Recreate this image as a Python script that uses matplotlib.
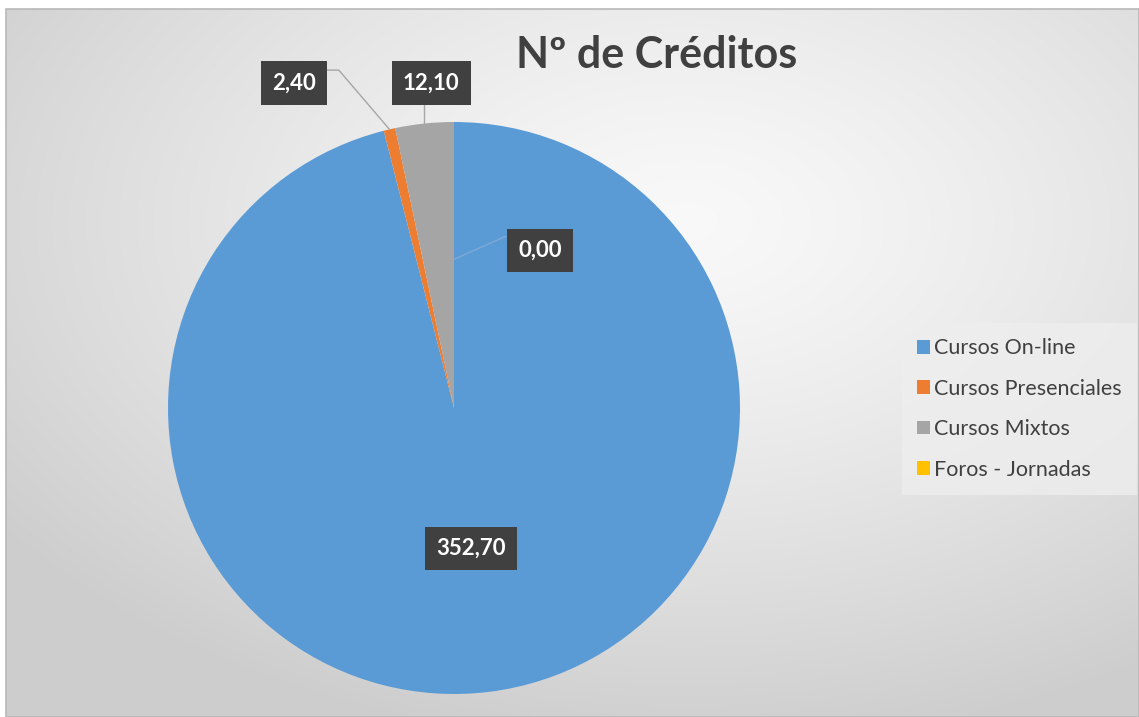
import numpy as np
import matplotlib.pyplot as plt
from matplotlib.patches import Rectangle

# data
categories = ["Cursos On-line", "Cursos Presenciales", "Cursos Mixtos", "Foros - Jornadas"]
creditos = [352.70, 2.40, 12.10, 0.00]
colors = ["#5B9BD5", "#ED7D31", "#A5A5A5", "#FFC000"]
title = "Nº de Créditos"

# label layout (data units, pie radius = 1): text centre and leader anchor radius
label_pos = [(0.06, -0.49), (-0.56, 1.136), (-0.08, 1.136), (0.30, 0.55)]
anchor_r = [None, 1.0, 1.0, 0.52]

plt.rcParams["font.family"] = ["Lato", "DejaVu Sans"]

W, H = 1139, 717
fig = plt.figure(figsize=(W / 100, H / 100), dpi=100)
ax = fig.add_axes([0, 0, 1, 1])
R = 286.0
cx, cy = 454.0, 408.0
xlim = (-cx / R, (W - cx) / R)
ylim = ((cy - H) / R, cy / R)

# radial gradient background
gx, gy = np.meshgrid(np.linspace(0, 1, 400), np.linspace(0, 1, 250))
d = np.sqrt(((gx - 0.6) / 0.75) ** 2 + ((gy - 0.3) / 0.75) ** 2)
d = np.clip(d, 0, 1)
v = 0.975 - 0.17 * d ** 1.3
img = np.dstack([v, v, v])
ax.imshow(img, extent=(xlim[0] + 6 / R, xlim[1], ylim[0], ylim[1] - 9 / R),
          origin="upper", aspect="auto", zorder=0)
ax.add_patch(Rectangle((xlim[0] + 6 / R, ylim[0]), (W - 6) / R, (H - 9) / R,
                       fill=False, ec="#b8b8b8", lw=1.2, zorder=1))

wedges, _ = ax.pie(creditos, colors=colors, startangle=90, counterclock=False,
                   radius=1.0, center=(0, 0), frame=True,
                   wedgeprops=dict(linewidth=0))
for w in wedges:
    w.set_zorder(2)

total = sum(creditos)
cum = 0.0
for i, val in enumerate(creditos):
    mid = (cum + val / 2) / total * 2 * np.pi
    cum += val
    tx, ty = label_pos[i]
    txt = f"{val:.2f}".replace(".", ",")
    kw = dict(ha="center", va="center", color="white", fontsize=16, fontweight="bold",
              zorder=5, bbox=dict(boxstyle="square,pad=0.5", fc="#404040", ec="none"))
    if anchor_r[i] is None:
        ax.text(tx, ty, txt, **kw)
        continue
    ax_, ay_ = anchor_r[i] * np.sin(mid), anchor_r[i] * np.cos(mid)
    if i == 1:
        # horizontal stub from box right edge, then down to the wedge
        bx = tx + 32 / R
        ax.plot([bx, bx + 13 / R, ax_], [ty + 13 / R, ty + 13 / R, ay_],
                color="#a6a6a6", lw=1, zorder=3)
    elif i == 2:
        ax.plot([ax_, ax_], [ty - 20 / R, ay_], color="#a6a6a6", lw=1, zorder=3)
    else:
        bx = tx - 32 / R
        ax.plot([ax_, bx - 3 / R, bx], [ay_, ty + 14 / R, ty + 14 / R],
                color="#7fa9d6", lw=1, zorder=3)
    ax.text(tx, ty, txt, **kw)

ax.set_xlim(*xlim)
ax.set_ylim(*ylim)
ax.set_aspect("auto")
ax.axis("off")

fig.text(657 / W, 1 - 55 / H, title, ha="center", va="center", fontsize=31,
         fontweight="bold", color="#404040")

leg = ax.legend(wedges, categories, loc="center left",
                bbox_to_anchor=(902 / W, 1 - 409 / H), bbox_transform=fig.transFigure,
                fontsize=15.5, frameon=True, fancybox=False, handlelength=0.6,
                handleheight=0.6, handletextpad=0.2, labelspacing=0.95,
                borderpad=0.7, borderaxespad=0, labelcolor="#404040")
leg.get_frame().set_facecolor("#eeeeee")
leg.get_frame().set_edgecolor("none")
leg.get_frame().set_alpha(0.8)

fig.savefig("out.png", dpi=100, facecolor="white")
